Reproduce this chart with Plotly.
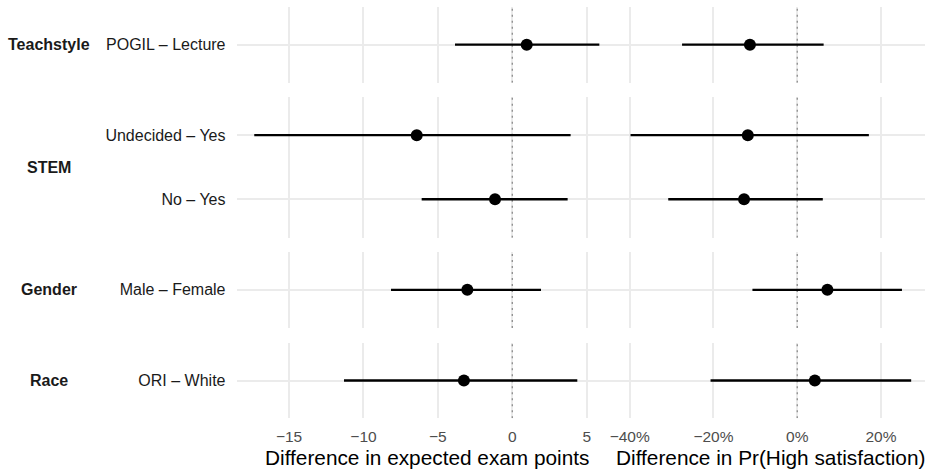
import plotly.graph_objects as go

# ---- data ----
terms = ["Teachstyle", "STEM", "Gender", "Race"]
contrasts = {
    "Teachstyle": ["POGIL – Lecture"],
    "STEM": ["No – Yes", "Undecided – Yes"],
    "Gender": ["Male – Female"],
    "Race": ["ORI – White"],
}
# values per contrast (order matches the lists above, bottom to top)
exam_est = {"Teachstyle": [0.97], "STEM": [-1.16, -6.42], "Gender": [-3.02], "Race": [-3.25]}
exam_lo = {"Teachstyle": [-3.85], "STEM": [-6.09, -17.34], "Gender": [-8.15], "Race": [-11.31]}
exam_hi = {"Teachstyle": [5.85], "STEM": [3.72, 3.92], "Gender": [1.93], "Race": [4.37]}
sat_est = {"Teachstyle": [-0.113], "STEM": [-0.127, -0.118], "Gender": [0.072], "Race": [0.042]}
sat_lo = {"Teachstyle": [-0.275], "STEM": [-0.308, -0.398], "Gender": [-0.107], "Race": [-0.207]}
sat_hi = {"Teachstyle": [0.063], "STEM": [0.061, 0.171], "Gender": [0.250], "Race": [0.272]}

exam_ticks = [-15, -10, -5, 0, 5]
sat_ticks = [-0.4, -0.2, 0.0, 0.2]
ref_value = 0
titles = ["Difference in expected exam points", "Difference in Pr(High satisfaction)"]

# ---- layout geometry (pixels) ----
W, H = 931, 476
col_px = [(236.7, 616.3), (616.3, 925.0)]
row_px = [(6.7, 82.7), (96.7, 237.7), (251.7, 328.0), (342.7, 418.3)]
x_ranges = [[-18.52, 6.99], [-0.432, 0.305]]

GRID = "#EBEBEB"
FONT = "Liberation Sans, Arial, sans-serif"
fig = go.Figure()
layout = {}
annotations = []

n = 0
for r, term in enumerate(terms):
    ncat = len(contrasts[term])
    ypos = list(range(1, ncat + 1))
    yrange = [0.4, ncat + 0.6]
    y0p, y1p = row_px[r]
    ydom = [1 - y1p / H, 1 - y0p / H]
    for c in range(2):
        n += 1
        xa = "x" if n == 1 else f"x{n}"
        ya = "y" if n == 1 else f"y{n}"
        est = (exam_est if c == 0 else sat_est)[term]
        lo = (exam_lo if c == 0 else sat_lo)[term]
        hi = (exam_hi if c == 0 else sat_hi)[term]
        # dotted reference line at zero (drawn first, beneath the intervals)
        fig.add_trace(go.Scatter(x=[ref_value, ref_value], y=yrange, mode="lines",
                                 xaxis=xa, yaxis=ya,
                                 line=dict(color="#8C8C8C", width=1.3, dash="2px,4px"),
                                 showlegend=False, hoverinfo="skip"))
        xs, ys = [], []
        for i in range(ncat):
            xs += [lo[i], hi[i], None]
            ys += [ypos[i], ypos[i], None]
        fig.add_trace(go.Scatter(x=xs, y=ys, mode="lines", xaxis=xa, yaxis=ya,
                                 line=dict(color="black", width=2.3),
                                 showlegend=False, hoverinfo="skip"))
        fig.add_trace(go.Scatter(x=est, y=ypos, mode="markers", xaxis=xa, yaxis=ya,
                                 marker=dict(color="black", size=12),
                                 showlegend=False))
        x0p, x1p = col_px[c]
        bottom = (r == len(terms) - 1)
        layout["xaxis" if n == 1 else f"xaxis{n}"] = dict(
            domain=[x0p / W, x1p / W], anchor=ya, range=x_ranges[c],
            tickvals=exam_ticks if c == 0 else sat_ticks,
            tickformat="" if c == 0 else ".0%",
            showticklabels=bottom, showgrid=True, gridcolor=GRID, gridwidth=1.6,
            zeroline=False, showline=False,
            ticks="outside" if bottom else "", ticklen=4, tickcolor="rgba(0,0,0,0)",
            tickfont=dict(family=FONT, size=15.5, color="#4D4D4D"),
            automargin=False, fixedrange=True,
        )
        layout["yaxis" if n == 1 else f"yaxis{n}"] = dict(
            domain=ydom, anchor=xa, range=yrange,
            tickvals=ypos, ticktext=contrasts[term],
            showticklabels=(c == 0), showgrid=True, gridcolor=GRID, gridwidth=1.6,
            zeroline=False, showline=False,
            ticks="outside" if c == 0 else "", ticklen=7, tickcolor="rgba(0,0,0,0)",
            tickfont=dict(family=FONT, size=16, color="#1A1A1A"),
            automargin=False, fixedrange=True,
        )
    # strip label
    annotations.append(dict(text=f"<b>{term}</b>", xref="paper", yref="paper",
                            x=48.5 / W, y=1 - (y0p + y1p) / 2 / H, showarrow=False,
                            xanchor="center", yanchor="middle",
                            font=dict(family=FONT, size=16, color="#1A1A1A")))

for c in range(2):
    x0p, x1p = col_px[c]
    annotations.append(dict(text=titles[c], xref="paper", yref="paper",
                            x=(x0p + x1p) / 2 / W, y=1 - 457 / H, showarrow=False,
                            xanchor="center", yanchor="middle",
                            font=dict(family=FONT, size=20.8, color="black")))

fig.update_layout(
    width=W, height=H,
    margin=dict(l=0, r=0, t=0, b=0),
    paper_bgcolor="white", plot_bgcolor="white",
    annotations=annotations,
    **layout,
)
fig.write_html("out.html")
